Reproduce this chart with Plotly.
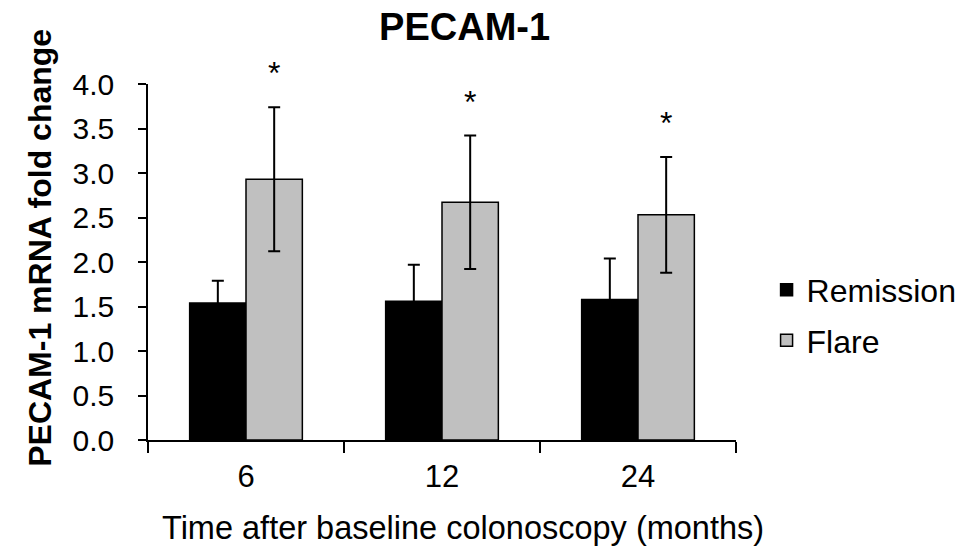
import plotly.graph_objects as go

categories = ["6", "12", "24"]
remission = [1.54, 1.56, 1.58]
remission_err = [0.25, 0.41, 0.46]
flare = [2.93, 2.67, 2.53]
flare_err = [0.81, 0.75, 0.65]
y_ticks = [0.0, 0.5, 1.0, 1.5, 2.0, 2.5, 3.0, 3.5, 4.0]

FONT = "Liberation Sans, Arial, sans-serif"

fig = go.Figure()
fig.add_trace(go.Bar(
    name="Remission", x=categories, y=remission,
    marker=dict(color="black", line=dict(color="black", width=1.5)),
    error_y=dict(type="data", array=remission_err, color="black", thickness=2, width=6),
    legendgroup="a",
))
fig.add_trace(go.Bar(
    name="Flare", x=categories, y=flare,
    marker=dict(color="#c0c0c0", line=dict(color="black", width=1.5)),
    error_y=dict(type="data", array=flare_err, color="black", thickness=2, width=6),
    legendgroup="b",
))

for i, (v, e) in enumerate(zip(flare, flare_err)):
    fig.add_annotation(x=i, y=v + e, xref="x", yref="y", text="*", showarrow=False,
                       xshift=28, yshift=34, yanchor="middle",
                       font=dict(family=FONT, size=32, color="black"))

# axis titles as annotations for precise placement
fig.add_annotation(text="<b>PECAM-1 mRNA fold change</b>", xref="paper", yref="paper",
                   x=-0.183, y=0.541, xanchor="center", yanchor="middle", textangle=-90,
                   showarrow=False, font=dict(family=FONT, size=32, color="black"))
fig.add_annotation(text="Time after baseline colonoscopy (months)", xref="paper", yref="paper",
                   x=0.5356, y=-0.246, xanchor="center", yanchor="middle",
                   showarrow=False, font=dict(family=FONT, size=32.5, color="black"))

fig.update_layout(
    width=974, height=548,
    margin=dict(l=148, r=236, t=84, b=108),
    paper_bgcolor="white", plot_bgcolor="white",
    barmode="group", bargap=0.425, bargroupgap=0,
    font=dict(family=FONT, color="black", size=31),
    title=dict(text="<b>PECAM-1</b>", x=0.477, xanchor="center", y=0.952, yanchor="middle",
               font=dict(family=FONT, size=38, color="black")),
    showlegend=True,
    legend=dict(x=1.052, y=0.35, xanchor="left", yanchor="middle",
                font=dict(family=FONT, size=32, color="black"),
                tracegroupgap=6, traceorder="grouped", itemwidth=30),
)
fig.update_xaxes(
    type="category", range=[-0.5, 2.5], showline=True, linecolor="black", linewidth=1.5,
    ticks="outside", tickson="boundaries", ticklen=11, tickwidth=1.5, tickcolor="black",
    ticklabelstandoff=8,
    showgrid=False, tickangle=0, tickfont=dict(family=FONT, size=31),
)
fig.update_yaxes(
    range=[0, 4], tickvals=y_ticks, ticktext=[f"{t:.1f}" for t in y_ticks],
    showline=True, linecolor="black", linewidth=1.5,
    ticks="outside", ticklen=8, tickwidth=1.5, tickcolor="black",
    ticklabelstandoff=18,
    showgrid=False, zeroline=False, tickfont=dict(family=FONT, size=30),
)

fig.write_html("out.html")
